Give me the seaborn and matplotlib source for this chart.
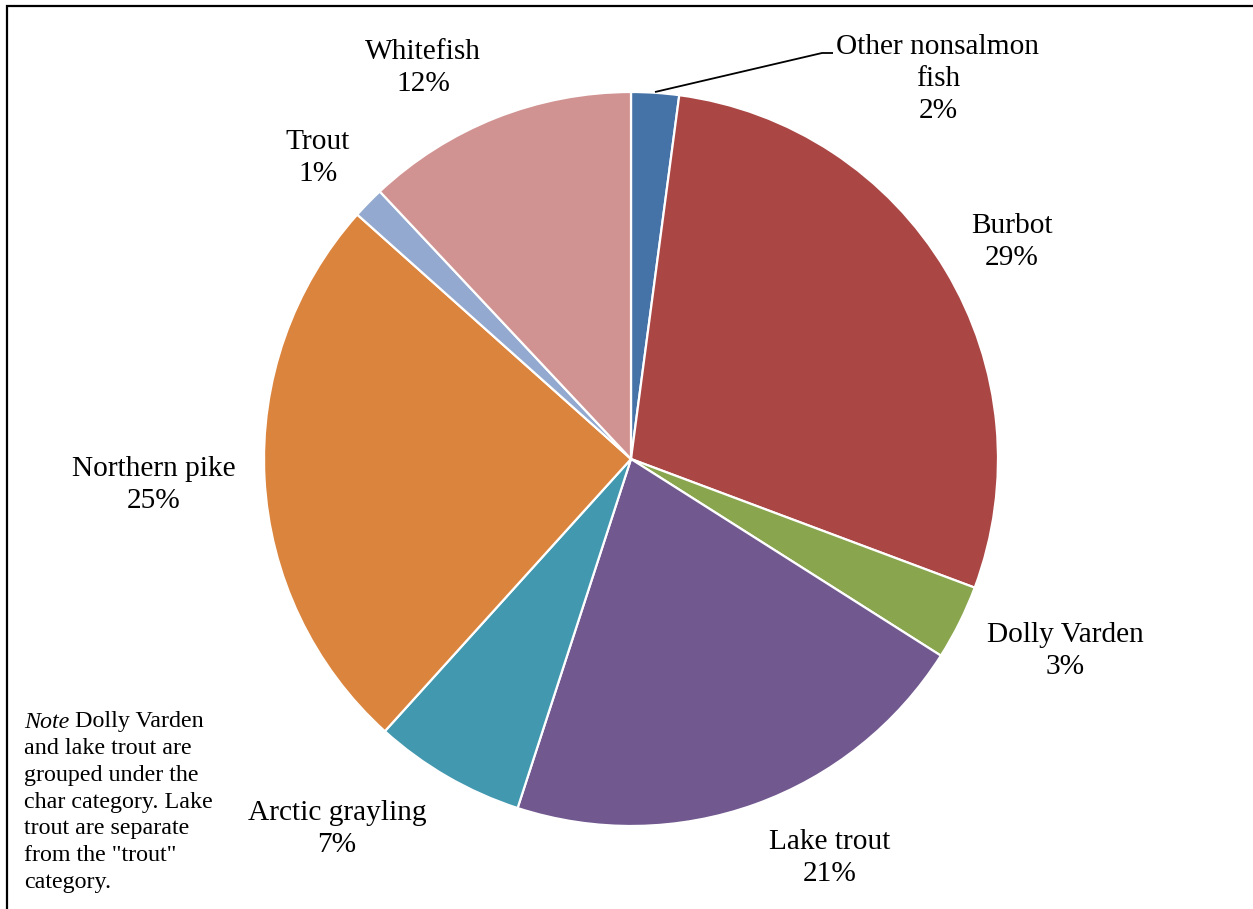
import matplotlib
matplotlib.use("Agg")
import matplotlib.pyplot as plt
import seaborn as sns

# ---- data ----
categories = ["Other nonsalmon\nfish", "Burbot", "Dolly Varden", "Lake trout",
              "Arctic grayling", "Northern pike", "Trout", "Whitefish"]
shares = [2.1, 28.6, 3.3, 21.0, 6.7, 24.9, 1.4, 12.0]
colors = ["#4573A7", "#AA4644", "#89A54E", "#71588F",
          "#4198AF", "#DB843D", "#93A9CF", "#D19392"]
note_lines = ["and lake trout are", "grouped under the", "char category. Lake",
              "trout are separate", "from the \"trout\"", "category."]

sns.set_theme(style="white")
plt.rcParams["font.family"] = ["Liberation Serif", "DejaVu Serif"]

W, H = 1253, 909
fig = plt.figure(figsize=(W / 100, H / 100), dpi=100)
ax = fig.add_axes([0, 0, 1, 1])

def Y(y):
    return H - y

cx, cy, R = 631, 459, 367
ax.pie(shares, colors=colors, startangle=90, counterclock=False,
       center=(cx, Y(cy)), radius=R,
       wedgeprops=dict(edgecolor="white", linewidth=1.6))
ax.set_position([0, 0, 1, 1])
ax.set_xlim(0, W)
ax.set_ylim(0, H)
ax.set_aspect("auto")
ax.axis("off")

# label positions (pixel centres of the label blocks)
label_pos = [(938, 79), (1012, 242), (1065, 651), (830, 858),
             (337, 829), (154, 485), (318, 158), (423, 68)]
LFS = 21.2
for name, v, (lx, ly) in zip(categories, shares, label_pos):
    ax.text(lx, Y(ly), f"{name}\n{round(v):d}%", ha="center", va="center",
            fontsize=LFS, color="black", linespacing=1.29)

# leader line for the small slice
ax.plot([655, 822, 833], [Y(92), Y(53), Y(53)], color="black", lw=1.3,
        solid_capstyle="butt")

# note
NFS = 17.3
nx, ny0, dy = 24, 722, 26.7
t0 = ax.text(nx, Y(ny0), "Note", fontsize=NFS, style="italic", ha="left",
             va="center", color="black")
ax.annotate(" Dolly Varden", xy=(1, 0), xycoords=t0, ha="left", va="bottom",
            fontsize=NFS, color="black")
for i, line in enumerate(note_lines, start=1):
    ax.text(nx, Y(ny0 + i * dy), line, fontsize=NFS, ha="left", va="center",
            color="black")

# frame (left and top edges)
ax.plot([6.5, 6.5, W], [0, Y(5.5), Y(5.5)], color="black", lw=1.6,
        solid_joinstyle="miter", clip_on=False)

fig.savefig("out.png", dpi=100, facecolor="white")
